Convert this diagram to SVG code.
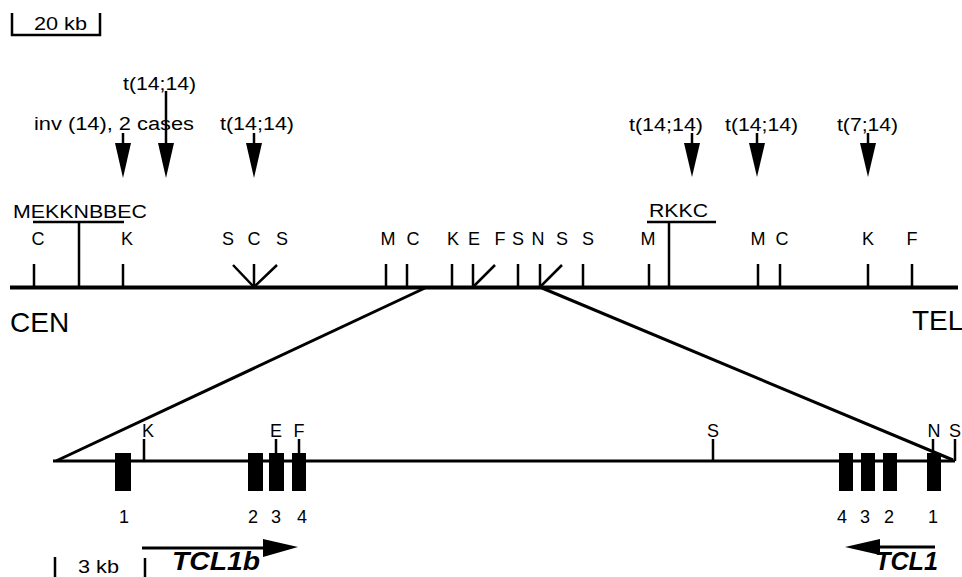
<svg xmlns="http://www.w3.org/2000/svg" width="962" height="577" viewBox="0 0 962 577">
<style>
text{font-family:"Liberation Sans",Arial,sans-serif;fill:#000}
.lab{font-size:18px;text-anchor:middle}
.ann{font-size:18px}
.big{font-size:28px}
.gene{font-size:25px;font-weight:bold;font-style:italic}
.tk{stroke:#000;stroke-width:2.5;fill:none}
.ln{stroke:#000;fill:none}
</style>
<rect width="962" height="577" fill="#fff"/>

<g id="scale-top">
<path class="tk" d="M12,13V35H100V13" stroke-width="2"/>
<text class="ann" x="34" y="30" textLength="53" lengthAdjust="spacingAndGlyphs">20 kb</text>
</g>

<g id="breakpoints">
<text class="ann" x="123" y="90" textLength="73" lengthAdjust="spacingAndGlyphs">t(14;14)</text>
<text class="ann" x="34" y="130" textLength="160" lengthAdjust="spacingAndGlyphs">inv (14), 2 cases</text>
<text class="ann" x="220" y="130" textLength="74" lengthAdjust="spacingAndGlyphs">t(14;14)</text>
<text class="ann" x="629" y="131" textLength="74" lengthAdjust="spacingAndGlyphs">t(14;14)</text>
<text class="ann" x="725" y="131" textLength="73" lengthAdjust="spacingAndGlyphs">t(14;14)</text>
<text class="ann" x="837" y="131" textLength="61" lengthAdjust="spacingAndGlyphs">t(7;14)</text>
<g class="tk">
<path d="M123,133V145M166,91V145M254,133V145M692,133V145M757,133V145M868,133V145"/>
</g>
<g fill="#000">
<polygon points="115,143 131,143 123,178"/>
<polygon points="158,143 174,143 166,178"/>
<polygon points="246,143 262,143 254,178"/>
<polygon points="684,143 700,143 692,177"/>
<polygon points="749,143 765,143 757,177"/>
<polygon points="860,143 876,143 868,177"/>
</g>
</g>

<g id="chromosome-map">
<line class="ln" x1="10" y1="287.5" x2="958" y2="287.5" stroke-width="4"/>
<path class="tk" d="M34,264V287M123,264V287M254,264V287M386,264V287M407,264V287M452,264V287M473,264V287M518,264V287M540,264V287M583,264V287M649,264V287M758,264V287M780,264V287M868,264V287M912,264V287"/>
<path class="tk" d="M233,265L254,287L277,265M473,287L495,265M540,287L562,265"/>
<path class="tk" d="M33,222H124M79,222V287M647,222H716M669,222V287" stroke-width="2.5"/>
<text class="ann" x="13" y="218" textLength="134" lengthAdjust="spacingAndGlyphs">MEKKNBBEC</text>
<text class="ann" x="649" y="217" textLength="59" lengthAdjust="spacingAndGlyphs">RKKC</text>
<text class="lab" x="38" y="245">C</text>
<text class="lab" x="127" y="245">K</text>
<text class="lab" x="228" y="245">S</text>
<text class="lab" x="254" y="245">C</text>
<text class="lab" x="282" y="245">S</text>
<text class="lab" x="388" y="245">M</text>
<text class="lab" x="413" y="245">C</text>
<text class="lab" x="453" y="245">K</text>
<text class="lab" x="474" y="245">E</text>
<text class="lab" x="500" y="245">F</text>
<text class="lab" x="518" y="245">S</text>
<text class="lab" x="538" y="245">N</text>
<text class="lab" x="562" y="245">S</text>
<text class="lab" x="588" y="245">S</text>
<text class="lab" x="648" y="245">M</text>
<text class="lab" x="758" y="245">M</text>
<text class="lab" x="782" y="245">C</text>
<text class="lab" x="868" y="245">K</text>
<text class="lab" x="912" y="245">F</text>
<text class="big" x="10" y="332">CEN</text>
<text class="big" x="912" y="330">TEL</text>
</g>

<g id="connectors">
<line class="ln" x1="425" y1="288" x2="56" y2="461" stroke-width="3"/>
<line class="ln" x1="542" y1="288" x2="953" y2="460" stroke-width="3"/>
</g>

<g id="tcl1-locus">
<line class="ln" x1="53" y1="461" x2="955" y2="461" stroke-width="3"/>
<path class="tk" d="M144,439V461M276,439V453M299,439V453M713,439V461M933,439V453M955,439V461" stroke-width="2"/>
<text class="lab" x="148" y="437">K</text>
<text class="lab" x="276" y="437">E</text>
<text class="lab" x="299" y="437">F</text>
<text class="lab" x="713" y="437">S</text>
<text class="lab" x="934" y="437">N</text>
<text class="lab" x="955" y="437">S</text>
<g fill="#000">
<rect x="115" y="453" width="16" height="38"/>
<rect x="248" y="453" width="15" height="38"/>
<rect x="269" y="453" width="15" height="38"/>
<rect x="292" y="453" width="14" height="38"/>
<rect x="839" y="453" width="14" height="38"/>
<rect x="861" y="453" width="14" height="38"/>
<rect x="883" y="453" width="14" height="38"/>
<rect x="927" y="453" width="14" height="38"/>
</g>
<text class="lab" x="124" y="523">1</text>
<text class="lab" x="253" y="523">2</text>
<text class="lab" x="276" y="523">3</text>
<text class="lab" x="302" y="523">4</text>
<text class="lab" x="842" y="523">4</text>
<text class="lab" x="865" y="523">3</text>
<text class="lab" x="889" y="523">2</text>
<text class="lab" x="933" y="523">1</text>
</g>

<g id="scale-bottom">
<path class="tk" d="M55,557V577M145,558V577"/>
<text class="ann" x="78" y="573" textLength="41" lengthAdjust="spacingAndGlyphs">3 kb</text>
</g>

<g id="gene-TCL1b">
<line class="ln" x1="142" y1="548" x2="266" y2="548" stroke-width="3"/>
<polygon points="263,539 298,547 263,557" fill="#000"/>
<text class="gene" x="172" y="570" textLength="88" lengthAdjust="spacingAndGlyphs">TCL1b</text>
</g>

<g id="gene-TCL1">
<line class="ln" x1="878" y1="547" x2="935" y2="547" stroke-width="3"/>
<polygon points="845,547 880,539 880,555" fill="#000"/>
<text class="gene" x="875" y="570" textLength="63" lengthAdjust="spacingAndGlyphs">TCL1</text>
</g>
</svg>
